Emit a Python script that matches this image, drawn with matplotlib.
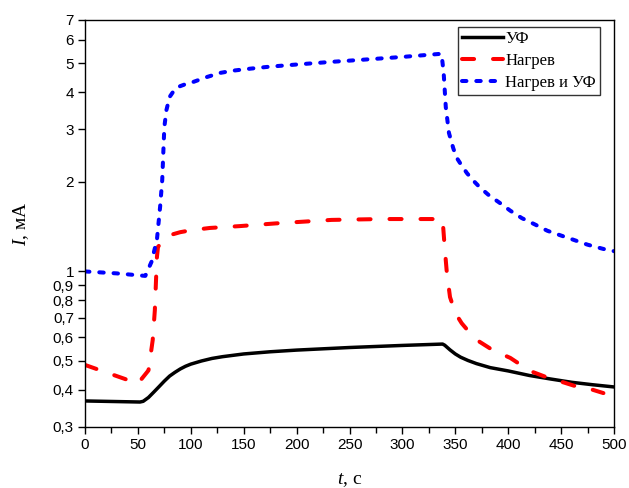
import matplotlib
matplotlib.use("Agg")
import matplotlib.pyplot as plt
from matplotlib.ticker import FixedLocator, FuncFormatter, MultipleLocator

plt.rcParams['mathtext.fontset'] = 'custom'
plt.rcParams['mathtext.rm'] = 'Liberation Serif'
plt.rcParams['mathtext.it'] = 'Liberation Serif:italic'

# УФ
t_uv = [0, 52, 55, 60, 65, 70, 75, 80, 85, 90, 95, 100, 110, 120, 130, 150, 175, 200, 250, 300, 338,
        340, 345, 350, 355, 362, 370, 383, 400, 420, 440, 460, 480, 500]
i_uv = [0.367, 0.364, 0.366, 0.377, 0.393, 0.41, 0.428, 0.445, 0.458, 0.47, 0.48, 0.488, 0.50, 0.51, 0.517,
        0.528, 0.537, 0.544, 0.555, 0.564, 0.570,
        0.565, 0.545, 0.528, 0.515, 0.502, 0.49, 0.475, 0.463, 0.447, 0.435, 0.424, 0.416, 0.409]

# Нагрев
t_heat = [0, 50, 60, 64, 66, 68, 69, 75, 82, 90, 100, 118, 146, 180, 233, 280, 329, 338,
          340, 342, 345, 350, 356, 364, 373, 385, 402, 412, 424, 437, 452, 465, 480, 490]
i_heat = [0.485, 0.42, 0.465, 0.588, 0.74, 1.12, 1.21, 1.28, 1.33, 1.355, 1.375, 1.40, 1.42, 1.45, 1.49, 1.50, 1.50, 1.50,
          1.2, 0.99, 0.82, 0.725, 0.67, 0.62, 0.58, 0.545, 0.512, 0.485, 0.458, 0.44, 0.424, 0.41, 0.40, 0.39]

# Нагрев и УФ
t_both = [0, 30, 57, 63, 68, 71, 73, 74, 75, 77, 80, 84, 88, 95, 102, 115, 128, 140, 153, 175, 200, 232, 260, 300, 334,
          337, 339, 341, 344, 348, 351, 356, 361, 367, 373, 382, 392, 402, 413, 425, 437, 450, 461, 475, 490, 500]
i_both = [1.0, 0.985, 0.966, 1.08, 1.28, 1.65, 2.03, 2.50, 3.06, 3.49, 3.86, 4.05, 4.17, 4.26, 4.33, 4.5, 4.65, 4.73,
          4.79, 4.88, 4.96, 5.06, 5.14, 5.26, 5.38,
          5.38, 4.65, 3.57, 2.92, 2.6, 2.42, 2.27, 2.14, 2.02, 1.92, 1.80, 1.70, 1.60, 1.51, 1.44, 1.37, 1.32, 1.28,
          1.23, 1.19, 1.17]

y_ticks = [0.3, 0.4, 0.5, 0.6, 0.7, 0.8, 0.9, 1, 2, 3, 4, 5, 6, 7]
x_ticks = [0, 50, 100, 150, 200, 250, 300, 350, 400, 450, 500]

fig = plt.figure(figsize=(6.29, 4.88), dpi=100)
ax = fig.add_axes([85/629, 61/488, 529/629, 407/488])

ax.plot(t_uv, i_uv, color='black', lw=2.5, label='УФ')
ax.plot(t_heat, i_heat, color='red', lw=2.9, dashes=(3.0, 4.7), dash_capstyle='round', label='Нагрев')
ax.plot(t_both, i_both, color='blue', lw=2.9, dashes=(1.1, 2.45), dash_capstyle='round', label='Нагрев и УФ')

ax.set_yscale('log')
ax.set_xlim(0, 500)
ax.set_ylim(0.3, 7)
ax.yaxis.set_major_locator(FixedLocator(y_ticks))
ax.yaxis.set_minor_locator(FixedLocator([]))
ax.yaxis.set_major_formatter(FuncFormatter(lambda v, p: ('%g' % v).replace('.', ',')))
ax.xaxis.set_major_locator(FixedLocator(x_ticks))
ax.xaxis.set_minor_locator(MultipleLocator(25))

ax.tick_params(axis='both', which='major', direction='out', length=5, width=1,
               labelsize=11, pad=3)
ax.tick_params(axis='x', which='minor', direction='out', length=4, width=1)
for lab in ax.get_xticklabels() + ax.get_yticklabels():
    lab.set_fontfamily('Liberation Sans')
for s in ax.spines.values():
    s.set_linewidth(1.0)

ax.set_xlabel('$t$, с', fontsize=14, fontfamily='Liberation Serif', labelpad=14)
ax.set_ylabel('$I$, мА', fontsize=14, fontfamily='Liberation Serif', labelpad=16)

leg = ax.legend(loc='upper right', bbox_to_anchor=(0.9735, 0.9825), prop={'family': 'Liberation Serif', 'size': 12},
                frameon=True, fancybox=False, edgecolor='black', handlelength=2.45,
                handletextpad=0.15, borderpad=0.25, labelspacing=0.35, borderaxespad=0.0,
                handleheight=0.7)
leg.get_frame().set_linewidth(1.0)
for h in leg.get_lines():
    h.set_dash_capstyle('round')

fig.savefig('out.png', dpi=100)
